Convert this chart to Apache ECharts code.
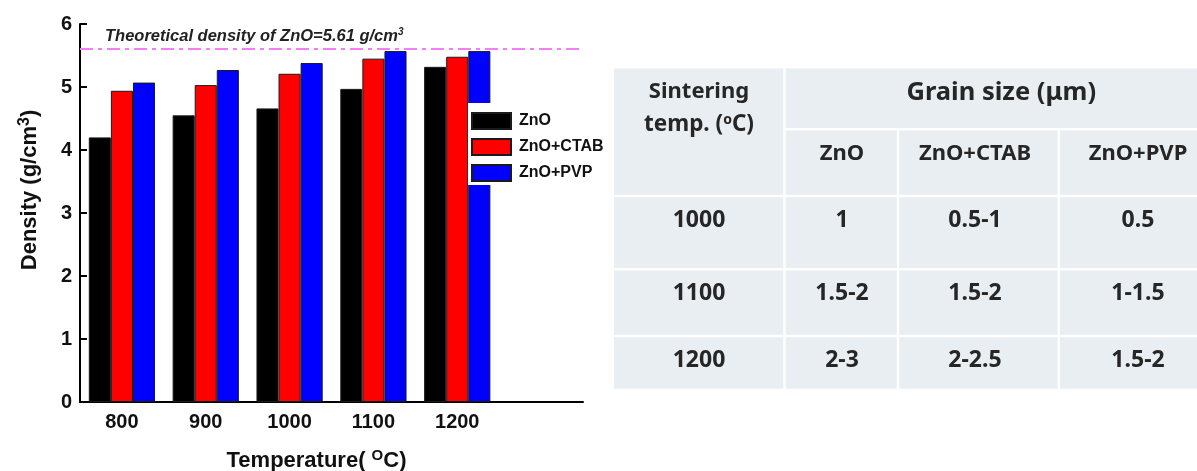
<!DOCTYPE html>
<html><head><meta charset="utf-8">
<script src="https://cdn.jsdelivr.net/npm/echarts@6/dist/echarts.min.js"></script>
<style>html,body{margin:0;padding:0;background:#fff}#c{width:1197px;height:471px}</style>
</head><body><div id="c"></div>
<script>
// ---- chart data ----
const categories = ['800', '900', '1000', '1100', '1200'];
const seriesNames = ['ZnO', 'ZnO+CTAB', 'ZnO+PVP'];
const densityZnO = [4.20, 4.55, 4.66, 4.97, 5.32];
const densityCTAB = [4.94, 5.03, 5.21, 5.45, 5.48];
const densityPVP = [5.07, 5.27, 5.38, 5.57, 5.57];
const theoreticalDensity = 5.61;
const yTickLabels = ['0', '1', '2', '3', '4', '5', '6'];

// ---- table data ----
const tableCornerLines = ['Sintering', 'temp. ({s|o}C)'];
const tableGroupHeader = 'Grain size (μm)';
const tableColumns = ['ZnO', 'ZnO+CTAB', 'ZnO+PVP'];
const tableTemps = ['1000', '1100', '1200'];
const grainZnO = ['1', '1.5-2', '2-3'];
const grainCTAB = ['0.5-1', '1.5-2', '2-2.5'];
const grainPVP = ['0.5', '1-1.5', '1.5-2'];

// ---- layout ----
const colX = [612.7, 784.5, 898, 1058.8, 1218];
const rowY = [67.3, 129.3, 196, 269.3, 336, 390];
const colTextX = [699, 842, 975, 1138];
const cellFill = '#e8eef2';
const sep = 1.2;
const tableFont = '"Noto Sans", "Open Sans", sans-serif';

const axisFont = '"Liberation Sans", Arial, sans-serif';
const colors = ['#000000', '#ff0000', '#0000ff'];
const allData = [densityZnO, densityCTAB, densityPVP];

function rect(x0, y0, x1, y1) {
  return { type: 'rect', shape: { x: x0 + sep, y: y0 + sep, width: x1 - x0 - 2 * sep, height: y1 - y0 - 2 * sep },
    style: { fill: cellFill }, silent: true, z: 1 };
}
function txt(text, x, y, size, rich) {
  return { type: 'text', x: x, y: y, silent: true, z: 5,
    style: { text: text, fontFamily: tableFont, fontSize: size, fontWeight: 'bold', fill: '#262626',
      align: 'center', verticalAlign: 'middle', rich: rich || {} } };
}

const graphics = [];
graphics.push(rect(colX[0], rowY[0], colX[1], rowY[2]));
graphics.push(rect(colX[1], rowY[0], colX[4], rowY[1]));
for (let c = 1; c < 4; c++) graphics.push(rect(colX[c], rowY[1], colX[c + 1], rowY[2]));
for (let r = 2; r < 5; r++) for (let c = 0; c < 4; c++) graphics.push(rect(colX[c], rowY[r], colX[c + 1], rowY[r + 1]));

const supRich = { s: { fontSize: 14, fontWeight: 'bold', fontFamily: tableFont, fill: '#262626', verticalAlign: 'top', padding: [0, 0, 9, 0] } };
graphics.push(txt(tableCornerLines[0], colTextX[0], rowY[0] + 24.4, 22));
graphics.push(txt(tableCornerLines[1], colTextX[0], rowY[0] + 57.7, 22.5, supRich));
graphics.push(txt(tableGroupHeader, (colX[1] + colX[4]) / 2, rowY[0] + 25.4, 25.5));
tableColumns.forEach((t, i) => graphics.push(txt(t, colTextX[i + 1], rowY[1] + 24, 22)));
const tableCols = [tableTemps, grainZnO, grainCTAB, grainPVP];
for (let r = 0; r < 3; r++) {
  for (let c = 0; c < 4; c++) {
    graphics.push(txt(tableCols[c][r], colTextX[c], rowY[r + 2] + 24, 23));
  }
}

const chart = echarts.init(document.getElementById('c'), null, { renderer: 'canvas' });
const option = {
  animation: false,
  backgroundColor: '#ffffff',
  grid: { left: 80, right: 614, top: 24, bottom: 69, containLabel: false, outerBoundsMode: 'none' },
  legend: {
    data: seriesNames, orient: 'vertical', left: 468, top: 103,
    padding: [9, 8, 3, 3], itemGap: 8, itemWidth: 39, itemHeight: 16,
    backgroundColor: '#ffffff', z: 10, icon: 'rect',
    textStyle: { fontFamily: axisFont, fontSize: 16, fontWeight: 'bold', color: '#111', padding: [0, 0, 0, 3] }
  },
  xAxis: {
    type: 'category', data: categories.concat(['']),
    name: 'Temperature( {s|O}C)', nameLocation: 'middle', nameGap: 46,
    nameTextStyle: { fontFamily: axisFont, fontSize: 22, fontWeight: 'bold', color: '#111', padding: [0, 30, 0, 0],
      rich: { s: { fontFamily: axisFont, fontSize: 15, fontWeight: 'bold', color: '#111', verticalAlign: 'top', padding: [0, 0, 10, 0] } } },
    axisLine: { lineStyle: { color: '#000', width: 2 } },
    axisTick: { inside: true, length: 6, alignWithLabel: true, lineStyle: { color: '#000', width: 2 },
      interval: function (i) { return i < categories.length; } },
    axisLabel: { fontFamily: axisFont, fontSize: 20, fontWeight: 'bold', color: '#111', margin: 10 },
    splitLine: { show: false }
  },
  yAxis: {
    type: 'value', min: 0, max: 6, interval: 1,
    name: 'Density (g/cm{s|3})', nameLocation: 'middle', nameGap: 37, nameRotate: 90,
    nameTextStyle: { fontFamily: axisFont, fontSize: 22, fontWeight: 'bold', color: '#111', padding: [0, 0, 0, 46],
      rich: { s: { fontFamily: axisFont, fontSize: 16, fontWeight: 'bold', color: '#111', verticalAlign: 'top', padding: [0, 0, 10, 0] } } },
    axisLine: { show: true, lineStyle: { color: '#000', width: 2 } },
    axisTick: { show: true, inside: true, length: 7, lineStyle: { color: '#000', width: 2 } },
    axisLabel: { fontFamily: axisFont, fontSize: 20, fontWeight: 'bold', color: '#111', margin: 8,
      formatter: function (v) { return yTickLabels[Math.round(v)]; } },
    splitLine: { show: false }
  },
  series: seriesNames.map((name, i) => {
    const s = {
      name: name, type: 'bar', data: allData[i], barGap: '0%', barCategoryGap: '21%',
      itemStyle: { color: colors[i], borderColor: '#1a1a1a', borderWidth: 1 },
      emphasis: { disabled: true }
    };
    if (i === 0) {
      s.markLine = {
        silent: true, symbol: 'none',
        lineStyle: { color: '#f47ef4', width: 2, type: [13, 5, 4, 5] },
        label: {
          show: true, position: 'insideStartTop', distance: 3,
          formatter: 'Theoretical density of ZnO=' + theoreticalDensity + ' g/cm{s|3}',
          fontFamily: axisFont, fontSize: 16.5, fontStyle: 'italic', fontWeight: 'bold', color: '#222',
          padding: [0, 0, 0, 22],
          rich: { s: { fontFamily: axisFont, fontSize: 10, fontStyle: 'italic', color: '#222', verticalAlign: 'top', padding: [0, 0, 8, 0] } }
        },
        data: [{ yAxis: theoreticalDensity }]
      };
    }
    return s;
  }),
  graphic: graphics
};
chart.setOption(option);
</script>
</body></html>
